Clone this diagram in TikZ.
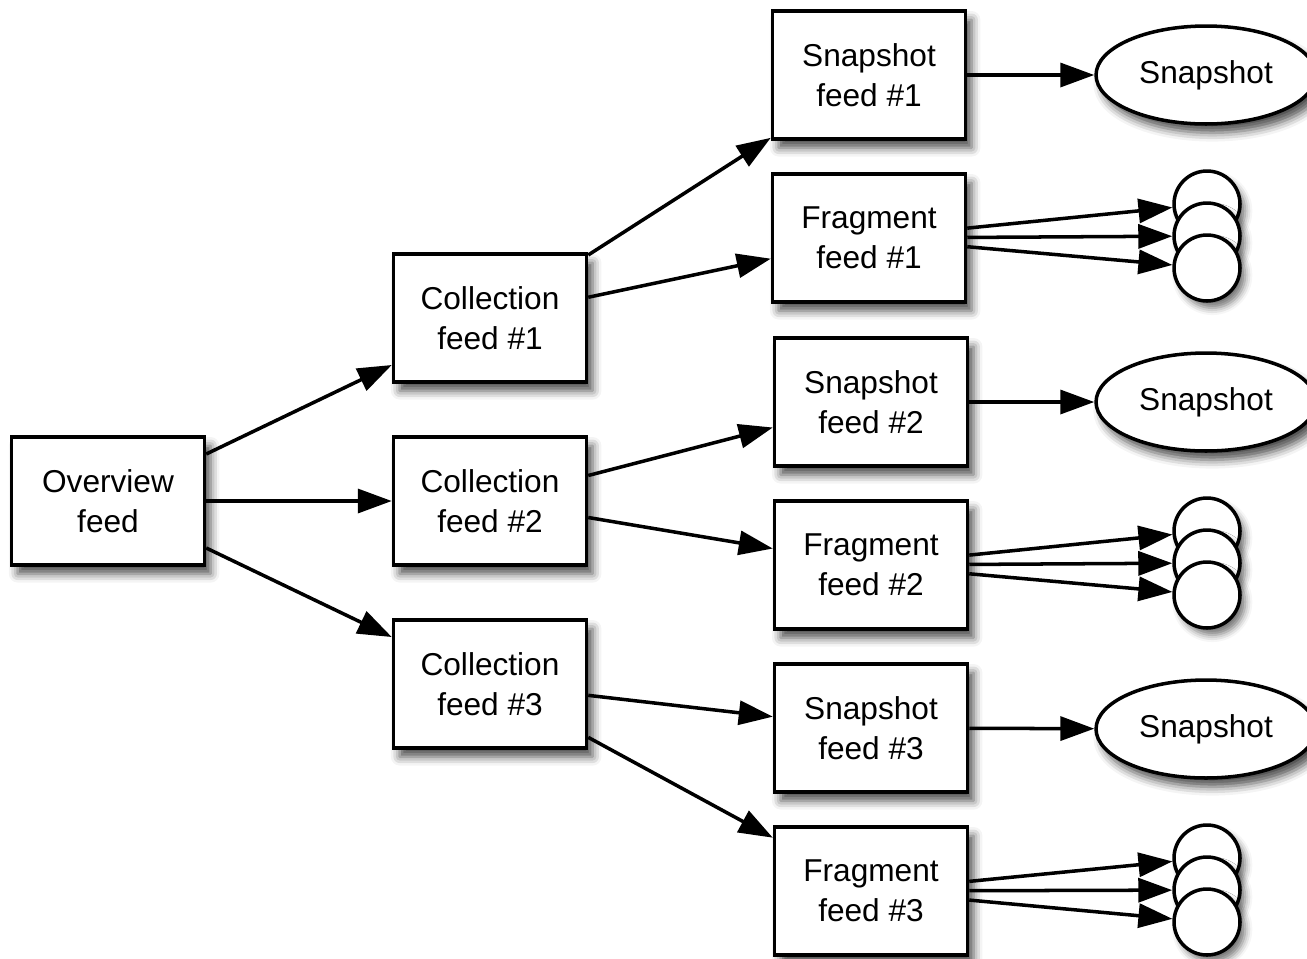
\documentclass[tikz,border=0pt]{standalone}
\usepackage{fontspec}
\setmainfont{Liberation Sans}
\usetikzlibrary{arrows.meta,shapes.geometric,shadows.blur}
\begin{document}
\begin{tikzpicture}[x=0.02cm,y=-0.02cm,
  feedbox/.style={draw,line width=2pt,fill=white,minimum width=3.86cm,minimum height=2.56cm,
    align=center,inner sep=0pt,font=\fontsize{18}{22.8}\selectfont,
    blur shadow={shadow xshift=3.5pt,shadow yshift=-5pt,shadow blur radius=5pt,shadow opacity=70}},
  snapell/.style={draw,ellipse,line width=2pt,fill=white,minimum width=4.4cm,minimum height=1.96cm,
    inner sep=0pt,font=\fontsize{18}{22.8}\selectfont,
    blur shadow={shadow xshift=3.5pt,shadow yshift=-5pt,shadow blur radius=5pt,shadow opacity=70}},
  frag/.style={draw,circle,line width=2pt,fill=white,minimum size=1.32cm,inner sep=0pt,
    blur shadow={shadow xshift=3pt,shadow yshift=-4pt,shadow blur radius=4pt,shadow opacity=55}},
  conn/.style={line width=2pt,-{Triangle[length=0.68cm,width=0.48cm]}}]
\useasboundingbox (0,0) rectangle (1307,958);
% boxes
\node[feedbox] (ov) at (108,501) {Overview\\feed};
\node[feedbox] (c1) at (490,318) {Collection\\feed \#1};
\node[feedbox] (c2) at (490,501) {Collection\\feed \#2};
\node[feedbox] (c3) at (490,684) {Collection\\feed \#3};
\node[feedbox] (s1) at (869,75) {Snapshot\\feed \#1};
\node[feedbox] (f1) at (869,238) {Fragment\\feed \#1};
\node[feedbox] (s2) at (871,402) {Snapshot\\feed \#2};
\node[feedbox] (f2) at (871,565) {Fragment\\feed \#2};
\node[feedbox] (s3) at (871,728) {Snapshot\\feed \#3};
\node[feedbox] (f3) at (871,891) {Fragment\\feed \#3};
% snapshots
\node[snapell] (e1) at (1206,75) {Snapshot};
\node[snapell] (e2) at (1206,402) {Snapshot};
\node[snapell] (e3) at (1206,729) {Snapshot};
% fragment circles
\node[frag] (k1a) at (1207,204) {};
\node[frag] (k1b) at (1207,236) {};
\node[frag] (k1c) at (1207,268) {};
\node[frag] (k2a) at (1207,531) {};
\node[frag] (k2b) at (1207,563) {};
\node[frag] (k2c) at (1207,595) {};
\node[frag] (k3a) at (1207,858) {};
\node[frag] (k3b) at (1207,890) {};
\node[frag] (k3c) at (1207,922) {};
% connectors
\draw[conn] (ov) -- (c1);
\draw[conn] (ov) -- (c2);
\draw[conn] (ov) -- (c3);
\draw[conn] (c1) -- (s1);
\draw[conn] (c1) -- (f1);
\draw[conn] (c2) -- (s2);
\draw[conn] (c2) -- (f2);
\draw[conn] (c3) -- (s3);
\draw[conn] (c3) -- (f3);
\draw[conn] (s1) -- (e1);
\draw[conn] (s2) -- (e2);
\draw[conn] (s3) -- (e3);
\draw[conn] (f1) -- (k1a);
\draw[conn] (f1) -- (k1b);
\draw[conn] (f1) -- (k1c);
\draw[conn] (f2) -- (k2a);
\draw[conn] (f2) -- (k2b);
\draw[conn] (f2) -- (k2c);
\draw[conn] (f3) -- (k3a);
\draw[conn] (f3) -- (k3b);
\draw[conn] (f3) -- (k3c);
\end{tikzpicture}
\end{document}
